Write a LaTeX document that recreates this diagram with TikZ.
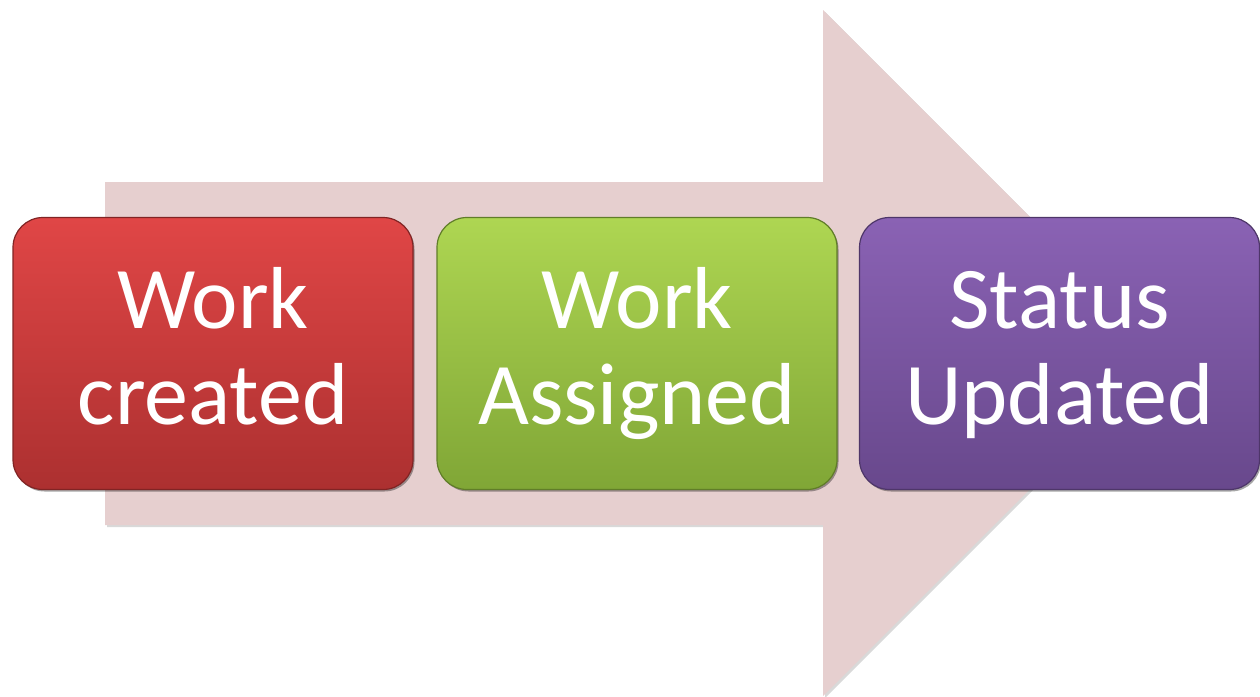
\documentclass[tikz,border=0pt]{standalone}
\usepackage{fontspec}
\setmainfont{Carlito}
\usetikzlibrary{shadows}

\definecolor{arrowfill}{RGB}{230,207,207}
\definecolor{redtop}{RGB}{224,70,70}
\definecolor{redbot}{RGB}{172,48,48}
\definecolor{greentop}{RGB}{174,214,82}
\definecolor{greenbot}{RGB}{128,166,54}
\definecolor{purpletop}{RGB}{138,98,180}
\definecolor{purplebot}{RGB}{104,72,140}

% two centred lines of a stage label, set a little below the box centre
\newcommand{\twolines}[2]{\raisebox{-4pt}[\height][\depth]{\begin{tabular}{@{}c@{}}#1\\#2\end{tabular}}}

\tikzset{
  stagebox/.style={
    rounded corners=30pt, minimum width=400pt, minimum height=272pt,
    inner sep=0pt, align=center, text=white,
    font=\fontsize{88}{96}\selectfont,
    line width=1.2pt,
    drop shadow={shadow xshift=1.5pt, shadow yshift=-2pt, opacity=0.35, fill=black}
  },
  redbox/.style={stagebox, top color=redtop, bottom color=redbot, draw=redbot!75!black},
  greenbox/.style={stagebox, top color=greentop, bottom color=greenbot, draw=greenbot!75!black},
  purplebox/.style={stagebox, top color=purpletop, bottom color=purplebot, draw=purplebot!75!black},
  flowarrow/.style={fill=arrowfill,
    drop shadow={shadow xshift=2pt, shadow yshift=-2pt, opacity=0.25, fill=black!60}}
}

\begin{document}
\begin{tikzpicture}[x=1pt, y=-1pt]
  \useasboundingbox (0,0) rectangle (1260,696);

  % background process arrow
  \fill[flowarrow] (105,182) -- (823,182) -- (823,10) -- (1166,353)
        -- (823,696) -- (823,525) -- (105,525) -- cycle;

  % process stages
  \node[redbox]    (created)  at (213,353.5)    {\twolines{Work}{created}};
  \node[greenbox]  (assigned) at (637,353.5)    {\twolines{Work}{Assigned}};
  \node[purplebox] (updated)  at (1059.5,353.5) {\twolines{Status}{Updated}};
\end{tikzpicture}
\end{document}
